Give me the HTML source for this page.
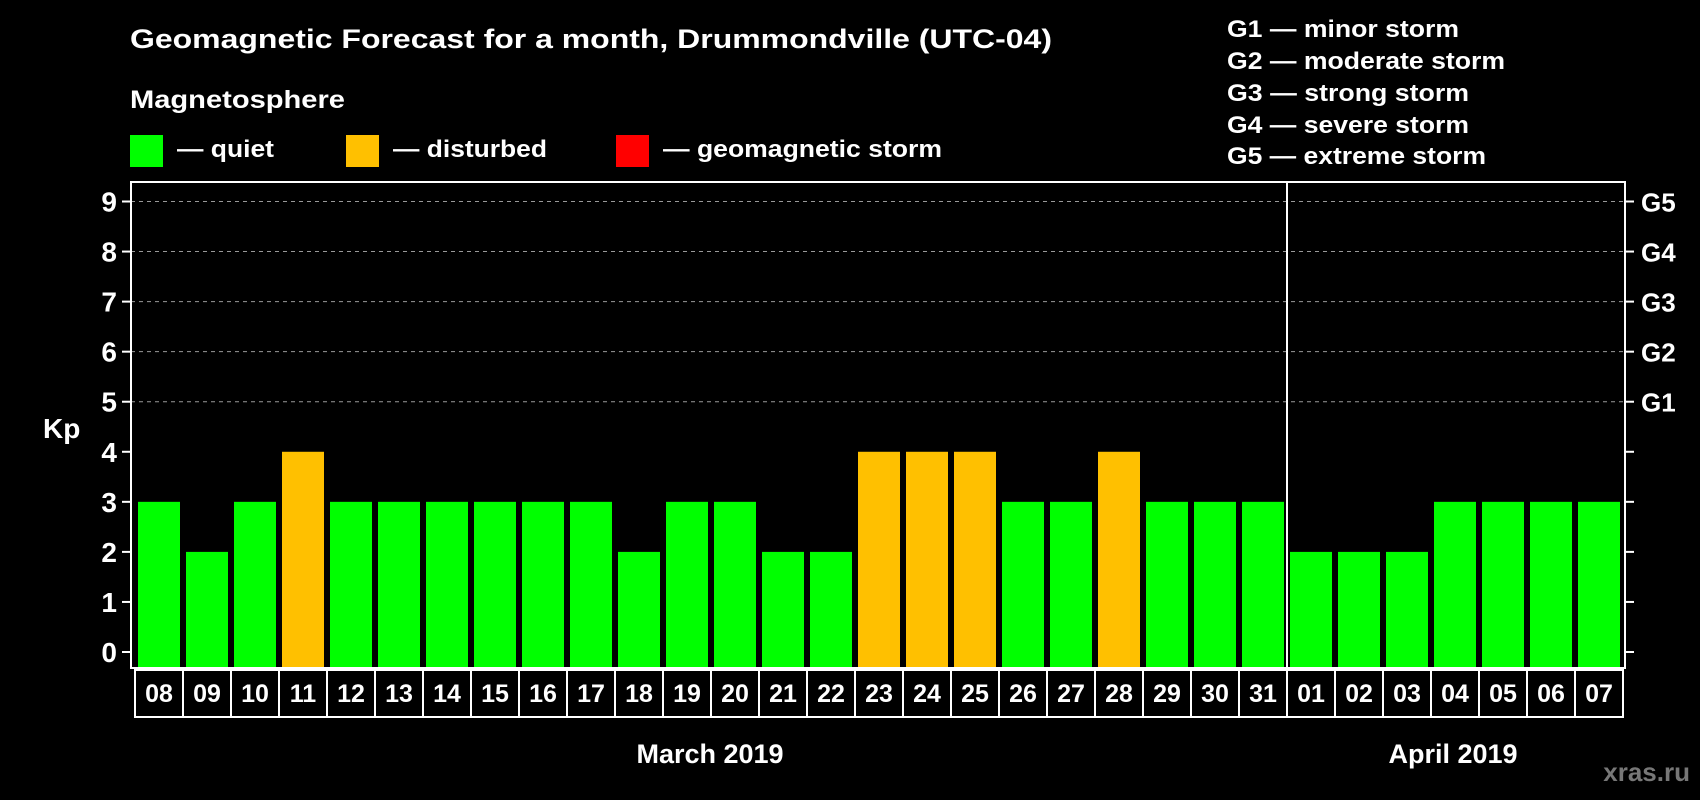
<!DOCTYPE html>
<html><head><meta charset="utf-8"><style>
html,body{margin:0;padding:0;background:#000;width:1700px;height:800px;overflow:hidden}
svg{display:block;font-family:"Liberation Sans",sans-serif;font-weight:bold}
</style></head><body>
<svg id="chart" width="1700" height="800" viewBox="0 0 1700 800">
<rect width="1700" height="800" fill="#000"/>
<text x="130" y="48" fill="#fff" font-size="27" textLength="922" lengthAdjust="spacingAndGlyphs">Geomagnetic Forecast for a month, Drummondville (UTC-04)</text>
<text x="130" y="108" fill="#fff" font-size="25" textLength="215" lengthAdjust="spacingAndGlyphs">Magnetosphere</text>
<g><rect x="130" y="135" width="33" height="32" fill="#00ff00"/><text x="177" y="157" fill="#fff" font-size="24" textLength="97" lengthAdjust="spacingAndGlyphs">— quiet</text></g>
<g><rect x="346" y="135" width="33" height="32" fill="#ffc000"/><text x="393" y="157" fill="#fff" font-size="24" textLength="154" lengthAdjust="spacingAndGlyphs">— disturbed</text></g>
<g><rect x="616" y="135" width="33" height="32" fill="#ff0000"/><text x="663" y="157" fill="#fff" font-size="24" textLength="279" lengthAdjust="spacingAndGlyphs">— geomagnetic storm</text></g>
<g fill="#fff" font-size="24">
<text x="1227" y="37" textLength="232" lengthAdjust="spacingAndGlyphs">G1 — minor storm</text>
<text x="1227" y="69" textLength="278" lengthAdjust="spacingAndGlyphs">G2 — moderate storm</text>
<text x="1227" y="101" textLength="242" lengthAdjust="spacingAndGlyphs">G3 — strong storm</text>
<text x="1227" y="133" textLength="242" lengthAdjust="spacingAndGlyphs">G4 — severe storm</text>
<text x="1227" y="164" textLength="259" lengthAdjust="spacingAndGlyphs">G5 — extreme storm</text>
</g>
<text x="43" y="438" fill="#fff" font-size="28">Kp</text>
<g id="grid"></g><g id="bars"></g><g id="axes"></g><g id="xlabels"></g>
<text x="710" y="763" fill="#fff" font-size="27" text-anchor="middle">March 2019</text>
<text x="1453" y="763" fill="#fff" font-size="27" text-anchor="middle">April 2019</text>
<text x="1690" y="781" fill="#777" font-size="26" text-anchor="end">xras.ru</text>
</svg>
<script>
const days = ["08","09","10","11","12","13","14","15","16","17","18","19","20","21","22","23","24","25","26","27","28","29","30","31","01","02","03","04","05","06","07"];
const kpValues = [3,2,3,4,3,3,3,3,3,3,2,3,3,2,2,4,4,4,3,3,4,3,3,3,2,2,2,3,3,3,3];
const yTicks = [0,1,2,3,4,5,6,7,8,9];
const gLabels = ["","","","","","G1","G2","G3","G4","G5"];
const monthSplitIndex = 24;

const NS = "http://www.w3.org/2000/svg";
const L = 131, R = 1625, T = 182, B = 668;
const y0 = 652, unit = (652 - 201.5) / 9;
const pitch = 48, x0 = 138, bw = 42;
const yS = v => y0 - v * unit;
const xS = i => x0 + i * pitch;
function mk(tag, attrs, parent) { const e = document.createElementNS(NS, tag); for (const k in attrs) e.setAttribute(k, attrs[k]); parent.appendChild(e); return e; }
const grid = document.getElementById("grid"), bars = document.getElementById("bars"), axes = document.getElementById("axes"), xl = document.getElementById("xlabels");

yTicks.forEach((v, i) => {
  const y = yS(v);
  if (v >= 5) {
    const g = mk("line", {x1: L, x2: R, y1: y, y2: y, stroke: "#999", "stroke-width": 1, "stroke-dasharray": "4,4"}, grid);
    
    
  }
  const tl = mk("line", {x1: L - 9, x2: L, y1: y, y2: y, stroke: "#fff", "stroke-width": 2}, axes);
  
  
  const tr = mk("line", {x1: R, x2: R + 9, y1: y, y2: y, stroke: "#fff", "stroke-width": 2}, axes);
  
  
  const t = mk("text", {x: L - 14, y: y + 10, fill: "#fff", "font-size": 28, "text-anchor": "end"}, axes);
  t.textContent = v;
  
  
  if (gLabels[i]) {
    const g = mk("text", {x: R + 16, y: y + 10, fill: "#fff", "font-size": 26}, axes);
    g.textContent = gLabels[i];
    
    
  }
});

kpValues.forEach((v, i) => {
  const col = v >= 5 ? "#ff0000" : (v >= 4 ? "#ffc000" : "#00ff00");
  const r = mk("rect", {x: xS(i), y: yS(v), width: bw, height: B - 1 - yS(v), fill: col}, bars);
  
  
  const c = mk("rect", {x: xS(i) - 3, y: 670, width: pitch, height: 47, fill: "none", stroke: "#fff", "stroke-width": 2}, xl);
  
  
  const t = mk("text", {x: xS(i) + bw / 2, y: 702, fill: "#fff", "font-size": 25, "text-anchor": "middle"}, xl);
  t.textContent = days[i];
  
  
});

const frame = mk("rect", {x: L, y: T, width: R - L, height: B - T, fill: "none", stroke: "#fff", "stroke-width": 2}, axes);


const sx = xS(monthSplitIndex) - 3;
const sp = mk("line", {x1: sx, x2: sx, y1: T, y2: 717, stroke: "#fff", "stroke-width": 2}, axes);


</script>
</body></html>
